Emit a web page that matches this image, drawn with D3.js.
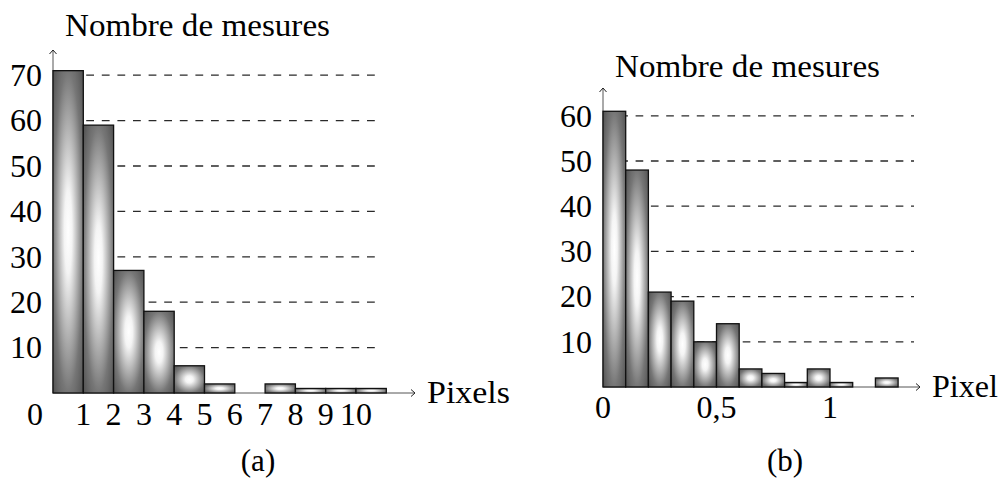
<!DOCTYPE html>
<html>
<head>
<meta charset="utf-8">
<script src="https://cdn.jsdelivr.net/npm/d3@7"></script>
<style>
  body { margin: 0; background: #fff; }
  text { font-family: "Liberation Serif", "Times New Roman", serif; fill: #000; }
</style>
</head>
<body>
<svg id="chart" width="1002" height="479"></svg>
<script>
// (a) counts per pixel bin [i, i+1]
var binsA = [0, 1, 2, 3, 4, 5, 6, 7, 8, 9, 10];
var countsA = [71, 59, 27, 18, 6, 2, 0, 2, 1, 1, 1];
var xTicksA = [1, 2, 3, 4, 5, 6, 7, 8, 9, 10];
var yTicksA = [10, 20, 30, 40, 50, 60, 70];

// (b) counts per 0.1 pixel bin
var binsB = [0, 0.1, 0.2, 0.3, 0.4, 0.5, 0.6, 0.7, 0.8, 0.9, 1.0, 1.1, 1.2];
var countsB = [61, 48, 21, 19, 10, 14, 4, 3, 1, 4, 1, 0, 2];
var xTicksB = [0, 0.5, 1];
var yTicksB = [10, 20, 30, 40, 50, 60];

var svg = d3.select("#chart");

// radial shading used by every bar
var grad = svg.append("defs").append("radialGradient")
  .attr("id", "shade")
  .attr("cx", 0.5).attr("cy", 0.5).attr("r", 0.71);
grad.append("stop").attr("offset", 0).attr("stop-color", "#ffffff");
grad.append("stop").attr("offset", 0.18).attr("stop-color", "#f4f4f4");
grad.append("stop").attr("offset", 0.7).attr("stop-color", "#767676");
grad.append("stop").attr("offset", 1).attr("stop-color", "#505050");

function histogram(opts) {
  var g = svg.append("g");
  var x = d3.scaleLinear().domain(opts.xDomain).range(opts.xRange);
  var y = d3.scaleLinear().domain([0, 10]).range([opts.y0, opts.y0 - opts.unit10]);
  var x0 = opts.xRange[0];

  // dashed guide lines, drawn first so bars cover them
  g.selectAll(".grid")
    .data(opts.yTicks)
    .join("line")
    .attr("x1", x0 + 2)
    .attr("x2", opts.gridEnd)
    .attr("y1", d => y(d))
    .attr("y2", d => y(d))
    .attr("stroke", "#2a2a2a")
    .attr("stroke-width", 1.3)
    .attr("stroke-dasharray", opts.dash);

  // axes
  g.append("line")
    .attr("x1", x0).attr("x2", x0)
    .attr("y1", opts.y0).attr("y2", opts.yTop)
    .attr("stroke", "#555").attr("stroke-width", 1);
  g.append("line")
    .attr("x1", x0).attr("x2", opts.xEnd)
    .attr("y1", opts.y0).attr("y2", opts.y0)
    .attr("stroke", "#555").attr("stroke-width", 1);
  g.append("path")
    .attr("d", "M" + (x0 - 3.5) + "," + (opts.yTop + 4) + " L" + x0 + "," + opts.yTop + " L" + (x0 + 3.5) + "," + (opts.yTop + 4))
    .attr("fill", "none").attr("stroke", "#222").attr("stroke-width", 1);
  g.append("path")
    .attr("d", "M" + (opts.xEnd - 4) + "," + (opts.y0 - 3.5) + " L" + opts.xEnd + "," + opts.y0 + " L" + (opts.xEnd - 4) + "," + (opts.y0 + 3.5))
    .attr("fill", "none").attr("stroke", "#222").attr("stroke-width", 1);

  // bars
  var data = opts.bins.map((b, i) => ({ b: b, v: opts.counts[i] })).filter(d => d.v > 0);
  g.selectAll(".bar")
    .data(data)
    .join("rect")
    .attr("x", d => x(d.b))
    .attr("width", d => x(d.b + opts.step) - x(d.b))
    .attr("y", d => y(d.v))
    .attr("height", d => opts.y0 - y(d.v))
    .attr("fill", "url(#shade)")
    .attr("stroke", "#111")
    .attr("stroke-width", 1.3);

  // y labels
  g.selectAll(".ylab")
    .data(opts.yTicks)
    .join("text")
    .attr("x", x0 - 11)
    .attr("y", d => y(d))
    .attr("dy", "0.34em")
    .attr("text-anchor", "end")
    .style("font-size", "32px")
    .text(d => d);

  // x labels
  g.selectAll(".xlab")
    .data(opts.xTicks)
    .join("text")
    .attr("x", d => x(d))
    .attr("y", opts.xLabY)
    .attr("text-anchor", "middle")
    .style("font-size", "32px")
    .text(d => String(d).replace(".", ","));

  if (opts.zeroLab) {
    g.append("text")
      .attr("x", opts.zeroLab).attr("y", opts.xLabY)
      .attr("text-anchor", "middle")
      .style("font-size", "32px")
      .text("0");
  }

  g.append("text")
    .attr("x", opts.titleX).attr("y", opts.titleY)
    .attr("textLength", 265).attr("lengthAdjust", "spacingAndGlyphs")
    .style("font-size", "31px")
    .text("Nombre de mesures");

  g.append("text")
    .attr("x", opts.xEnd + 12).attr("y", opts.y0 + 10)
    .style("font-size", "31px")
    .attr("textLength", opts.xNameLen)
    .attr("lengthAdjust", "spacingAndGlyphs")
    .text(opts.xName);

  g.append("text")
    .attr("x", opts.capX).attr("y", 471)
    .attr("text-anchor", "middle")
    .style("font-size", "31px")
    .text(opts.caption);
}

histogram({
  bins: binsA, counts: countsA, step: 1,
  xDomain: [0, 1], xRange: [53, 83.3],
  y0: 393, unit10: 45.4, yTop: 50,
  yTicks: yTicksA, xTicks: xTicksA, zeroLab: 35,
  gridEnd: 380, xEnd: 415, dash: "7.8,7.8",
  xLabY: 425, titleX: 65, titleY: 36,
  xName: "Pixels", xNameLen: 83, capX: 258, caption: "(a)"
});

histogram({
  bins: binsB, counts: countsB, step: 0.1,
  xDomain: [0, 1], xRange: [603, 830],
  y0: 387, unit10: 45.2, yTop: 88,
  yTicks: yTicksB, xTicks: xTicksB, zeroLab: null,
  gridEnd: 914, xEnd: 920, dash: "7.65,7.65",
  xLabY: 418, titleX: 615, titleY: 77,
  xName: "Pixel", xNameLen: 66, capX: 785, caption: "(b)"
});
</script>
</body>
</html>
